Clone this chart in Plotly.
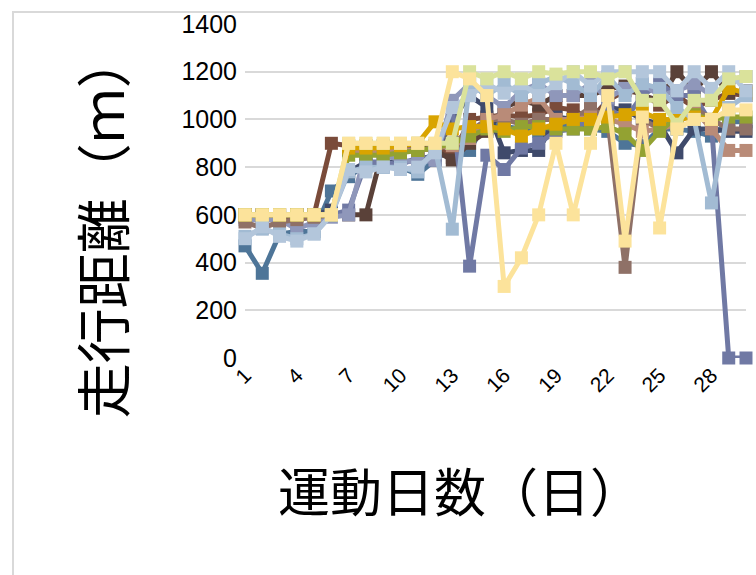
import plotly.graph_objects as go

# Exercise days (x axis categories) and tick labels
days = list(range(1, 31))
tick_days = [1, 4, 7, 10, 13, 16, 19, 22, 25, 28]
y_ticks = [0, 200, 400, 600, 800, 1000, 1200, 1400]

# Walking distance per subject (m), day 1 .. day 30
steel_blue = [470, 355, 520, 530, 530, 700, 760, 810, 800, 800, 770, 830, 880, 870, 1000,
              970, 960, 950, 960, 990, 960, 950, 900, 890, 960, 960, 950, 930, 990, 990]
brown = [590, 590, 590, 590, 600, 900, 890, 890, 890, 880, 880, 890, 840, 1000, 1010,
         1020, 1010, 1020, 1050, 1040, 1000, 1080, 1120, 1110, 1060, 1100, 1050, 1080, 1110, 1100]
dark_brown = [600, 600, 600, 600, 600, 600, 600, 600, 880, 890, 880, 870, 830, 900, 950,
              1050, 1080, 1060, 1100, 1100, 1100, 1130, 1140, 1100, 1080, 1200, 1120, 1200, 1110, 1120]
navy = [600, 600, 600, 600, 600, 620, 780, 820, 820, 820, 830, 850, 1000, 1100, 1050,
        860, 870, 870, 1010, 1000, 1000, 1050, 1040, 1000, 980, 860, 960, 960, 950, 950]
slate = [600, 600, 600, 600, 600, 600, 620, 820, 820, 810, 840, 830, 1050, 385, 850,
         790, 880, 900, 950, 960, 1000, 1050, 1000, 1100, 1150, 1100, 1100, 980, 0, 0]
lavender = [580, 580, 580, 540, 570, 590, 600, 860, 850, 830, 820, 830, 1080, 1150, 1100,
            1050, 1120, 1150, 1100, 1100, 1150, 1090, 1130, 1150, 1100, 1120, 1150, 1100, 1150, 1180]
taupe = [570, 545, 570, 580, 590, 600, 880, 880, 880, 880, 870, 880, 900, 950, 1000,
         1000, 980, 1000, 1000, 1000, 1050, 1000, 380, 1000, 960, 1000, 1050, 1000, 960, 960]
salmon = [600, 600, 600, 600, 600, 600, 870, 870, 870, 870, 870, 880, 890, 920, 1000,
          1020, 1060, 1090, 1000, 1000, 1010, 1000, 980, 950, 960, 980, 1040, 960, 870, 870]
olive = [600, 600, 600, 600, 600, 600, 850, 850, 850, 860, 870, 880, 900, 930, 960,
         950, 970, 970, 960, 960, 960, 970, 940, 870, 950, 1010, 1020, 1000, 1010, 1010]
gold = [600, 600, 600, 600, 600, 600, 880, 880, 880, 890, 900, 990, 960, 970, 970,
        960, 930, 960, 980, 1000, 1000, 1010, 1020, 1030, 1000, 1000, 1010, 1000, 1130, 1110]
mid_blue = [510, 540, 520, 500, 520, 600, 780, 800, 800, 800, 780, 880, 540, 1150, 1100,
            1150, 1100, 1150, 1180, 1150, 1100, 1180, 1100, 1150, 1130, 1050, 1000, 650, 1050, 1100]
pale_blue = [500, 550, 510, 490, 520, 600, 790, 780, 800, 790, 800, 860, 1050, 1100, 1150,
             1110, 1150, 1100, 1150, 1200, 1140, 1200, 1200, 1200, 1200, 1120, 1200, 1130, 1200, 1120]
light_green = [600, 600, 600, 600, 600, 600, 900, 900, 900, 900, 900, 900, 900, 1200, 1170,
               1200, 1170, 1200, 1190, 1200, 1200, 1170, 1200, 1080, 1080, 980, 1080, 1080, 1170, 1180]
pale_yellow = [600, 600, 600, 600, 600, 600, 900, 900, 900, 900, 900, 900, 1200, 1170, 1100,
               300, 420, 600, 900, 600, 900, 1100, 490, 1010, 545, 960, 1000, 1000, 1040, 1040]

series = [
    (steel_blue, "#4E7598"),
    (brown, "#7A4B3A"),
    (dark_brown, "#5A4139"),
    (navy, "#3F4A6B"),
    (slate, "#7079A4"),
    (lavender, "#8F97BA"),
    (taupe, "#8F7167"),
    (salmon, "#B98B78"),
    (olive, "#93A232"),
    (gold, "#D9A400"),
    (mid_blue, "#A2BBD3"),
    (pale_blue, "#B3C6DB"),
    (light_green, "#DAE29B"),
    (pale_yellow, "#FCE39B"),
]

fig = go.Figure()
for values, color in series:
    fig.add_trace(go.Scatter(
        x=days, y=values, mode="lines+markers",
        line=dict(color=color, width=5),
        marker=dict(symbol="square", size=13, color=color),
        cliponaxis=False, showlegend=False,
    ))

L, R, T, B = 245, 10, 21, 217
W, H = 756, 575
pw, ph = W - L - R, H - T - B


def px_x(px):
    return (px - L) / pw


def px_y(py):
    return (H - B - py) / ph


fig.update_layout(
    width=W, height=H,
    margin=dict(l=L, r=R, t=T, b=B, pad=0),
    paper_bgcolor="white", plot_bgcolor="white",
    font=dict(family="Liberation Sans, Arial, sans-serif", color="black"),
    xaxis=dict(
        range=[1, 30], tickmode="array", tickvals=tick_days,
        ticktext=[str(d) for d in tick_days], tickangle=-45,
        tickfont=dict(size=21, color="black"),
        showgrid=False, zeroline=False, showline=False, ticks="",
    ),
    yaxis=dict(
        range=[0, 1400], tickmode="array", tickvals=y_ticks,
        tickfont=dict(size=25, color="black"), ticklabelstandoff=7,
        showgrid=True, gridcolor="#D9D9D9", gridwidth=2,
        zeroline=False, showline=False, ticks="",
    ),
    shapes=[dict(
        type="rect", xref="paper", yref="paper",
        x0=px_x(13), x1=px_x(770), y0=px_y(600), y1=px_y(9),
        line=dict(color="#D9D9D9", width=2), fillcolor="rgba(0,0,0,0)",
        layer="below",
    )],
    annotations=[
        dict(text="走行距離（ｍ）", xref="paper", yref="paper",
             x=px_x(100), y=px_y(225), xanchor="center", yanchor="middle",
             textangle=-90, showarrow=False,
             font=dict(family="Noto Sans CJK JP", size=55, color="black")),
        dict(text="運動日数（日）", xref="paper", yref="paper",
             x=px_x(460), y=px_y(491), xanchor="center", yanchor="middle",
             showarrow=False,
             font=dict(family="Noto Sans CJK JP", size=52, color="black")),
    ],
)

fig.write_html("out.html")
